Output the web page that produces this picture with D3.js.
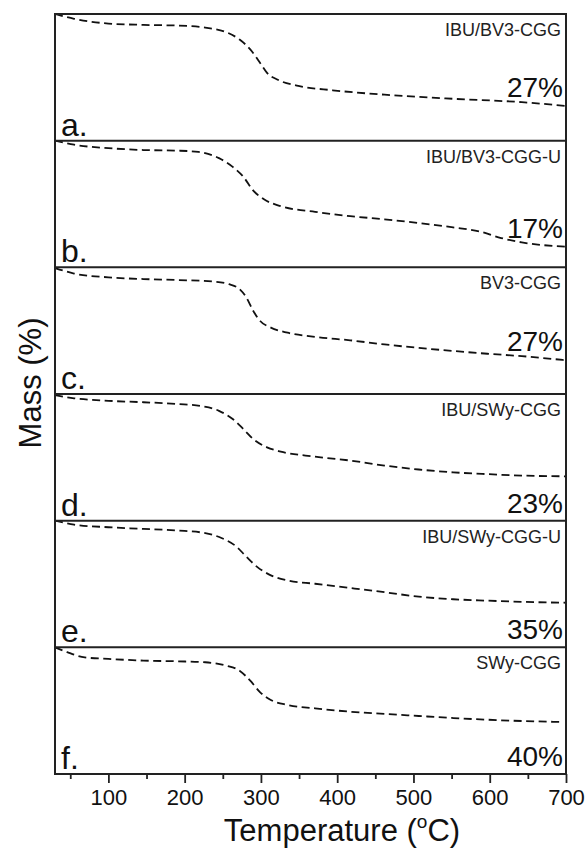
<!DOCTYPE html>
<html>
<head>
<meta charset="utf-8">
<script src="https://cdn.jsdelivr.net/npm/d3@7"></script>
<style>
  html, body { margin: 0; padding: 0; background: #fff; }
  svg { display: block; font-family: "Liberation Sans", Arial, Helvetica, sans-serif; }
</style>
</head>
<body>
<svg id="chart" width="586" height="848"></svg>
<script>
// Thermogravimetric curves, one stacked panel per sample.
const panelLetters = ["a.", "b.", "c.", "d.", "e.", "f."];
const sampleNames = ["IBU/BV3-CGG", "IBU/BV3-CGG-U", "BV3-CGG", "IBU/SWy-CGG", "IBU/SWy-CGG-U", "SWy-CGG"];
const massLoss = [27, 17, 27, 23, 35, 40];            // % lost over the run
const lossLabelSide = ["above", "above", "above", "below", "below", "below"];

// lower end of each panel's mass axis (%), upper end is 100
const massAxisMin = [62.8, 79.7, 63.2, 64.6, 46.0, 32.1];

// temperature (°C) / mass (%) readings per sample
const tempA = [30, 55, 100, 146, 191, 227, 254, 272, 286, 299, 308, 322, 349, 394, 462, 552, 642, 700];
const massA = [100, 98.6, 97.2, 96.8, 96.6, 96.0, 94.7, 92.5, 89.6, 85.6, 82.7, 80.7, 78.9, 77.6, 76.3, 75.1, 74.1, 73.0];

const tempB = [30, 55, 100, 146, 191, 218, 245, 263, 277, 290, 304, 326, 371, 417, 462, 507, 552, 588, 615, 642, 700];
const massB = [100, 99.35, 98.8, 98.5, 98.4, 98.2, 97.2, 95.8, 94.2, 92.0, 90.6, 89.5, 88.6, 87.9, 87.4, 86.8, 86.1, 85.4, 84.4, 83.7, 83.0];

const tempC = [30, 55, 100, 146, 191, 236, 258, 272, 281, 290, 299, 313, 335, 371, 417, 462, 507, 552, 597, 642, 700];
const massC = [99.8, 98.2, 97.1, 96.6, 96.3, 95.9, 95.1, 93.7, 91.2, 87.3, 84.4, 82.5, 81.0, 79.8, 78.8, 77.6, 76.6, 75.7, 74.9, 74.2, 73.0];

const tempD = [30, 55, 100, 146, 191, 222, 245, 263, 277, 290, 308, 326, 371, 417, 462, 507, 552, 597, 642, 700];
const massD = [99.7, 98.8, 98.1, 97.7, 97.2, 96.6, 95.3, 93.0, 90.2, 87.4, 85.1, 83.9, 82.5, 81.4, 80.0, 78.9, 78.1, 77.6, 77.2, 77.0];

const tempE = [30, 55, 100, 146, 191, 227, 249, 268, 281, 295, 313, 335, 371, 417, 462, 507, 552, 597, 642, 700];
const massE = [100, 98.3, 97.2, 96.5, 95.8, 94.7, 92.5, 88.9, 84.6, 80.3, 76.7, 74.5, 73.1, 71.3, 69.5, 67.6, 66.5, 65.9, 65.4, 65.0];

const tempF = [30, 46, 69, 100, 146, 191, 227, 254, 272, 286, 299, 313, 335, 371, 417, 462, 507, 552, 597, 642, 695];
const massF = [100, 97.4, 94.6, 93.8, 92.9, 92.5, 92.0, 90.2, 87.5, 82.1, 75.9, 71.8, 69.1, 67.3, 65.5, 64.3, 63.2, 62.1, 61.2, 60.5, 60.0];

const xTicksMajor = [100, 200, 300, 400, 500, 600, 700];
const xTicksMinor = [50, 150, 250, 350, 450, 550, 650];
const xLabel = "Temperature (";
const yLabel = "Mass (%)";

const temps = [tempA, tempB, tempC, tempD, tempE, tempF];
const masses = [massA, massB, massC, massD, massE, massF];

// ---- layout ----
const plotLeft = 55, plotRight = 566, plotTop = 14, plotBottom = 774;
const nPanels = panelLetters.length;
const panelH = (plotBottom - plotTop) / nPanels;

const svg = d3.select("#chart");

const x = d3.scaleLinear().domain([30, 700]).range([plotLeft, plotRight]);

const line = d3.line().curve(d3.curveMonotoneX);

const panels = svg.append("g").attr("class", "panels");

for (let i = 0; i < nPanels; i++) {
  const y0 = plotTop + i * panelH;
  const y = d3.scaleLinear().domain([massAxisMin[i], 100]).range([y0 + panelH, y0]);
  const g = panels.append("g").attr("class", "panel");

  const pts = temps[i].map((t, k) => [x(t), y(masses[i][k])]);
  g.append("path")
    .attr("d", line(pts))
    .attr("fill", "none")
    .attr("stroke", "#111")
    .attr("stroke-width", 1.8)
    .attr("stroke-dasharray", "8,4.5");

  g.append("text")
    .attr("x", plotLeft + 6)
    .attr("y", y0 + panelH - 5)
    .attr("font-size", 32)
    .attr("fill", "#111")
    .text(panelLetters[i]);

  g.append("text")
    .attr("x", plotRight - 5)
    .attr("y", y0 + 22)
    .attr("text-anchor", "end")
    .attr("font-size", 18)
    .attr("fill", "#222")
    .text(sampleNames[i]);

  const endMass = 100 - massLoss[i];
  const labelY = lossLabelSide[i] === "above" ? y(endMass) - 9 : y0 + panelH - 8;
  g.append("text")
    .attr("x", plotRight - 3)
    .attr("y", labelY)
    .attr("text-anchor", "end")
    .attr("font-size", 28)
    .attr("fill", "#111")
    .text(massLoss[i] + "%");

  if (i > 0) {
    g.append("line")
      .attr("x1", plotLeft).attr("x2", plotRight)
      .attr("y1", y0).attr("y2", y0)
      .attr("stroke", "#222").attr("stroke-width", 2);
  }
}

// outer frame
svg.append("rect")
  .attr("x", plotLeft).attr("y", plotTop)
  .attr("width", plotRight - plotLeft).attr("height", plotBottom - plotTop)
  .attr("fill", "none").attr("stroke", "#222").attr("stroke-width", 2);

// bottom temperature axis
const axisMajor = d3.axisBottom(x).tickValues(xTicksMajor).tickSize(9).tickSizeOuter(0).tickPadding(6);
const gx = svg.append("g").attr("transform", `translate(0,${plotBottom})`).call(axisMajor);
gx.select(".domain").remove();
gx.selectAll(".tick line").attr("stroke", "#222").attr("stroke-width", 1.8);
gx.selectAll(".tick text")
  .attr("font-size", 22)
  .attr("fill", "#111")
  .attr("font-family", "Liberation Sans, Arial, sans-serif");

const axisMinor = d3.axisBottom(x).tickValues(xTicksMinor).tickSize(5).tickSizeOuter(0).tickFormat("");
const gxm = svg.append("g").attr("transform", `translate(0,${plotBottom})`).call(axisMinor);
gxm.select(".domain").remove();
gxm.selectAll(".tick line").attr("stroke", "#222").attr("stroke-width", 1.8);

// axis titles
const xt = svg.append("text")
  .attr("x", 342)
  .attr("y", 841)
  .attr("text-anchor", "middle")
  .attr("font-size", 31)
  .attr("fill", "#111");
xt.append("tspan").text(xLabel);
xt.append("tspan").attr("font-size", 19).attr("dy", -13).text("o");
xt.append("tspan").attr("dy", 13).text("C)");

svg.append("text")
  .attr("transform", "translate(41,383) rotate(-90)")
  .attr("text-anchor", "middle")
  .attr("font-size", 31)
  .attr("fill", "#111")
  .text(yLabel);
</script>
</body>
</html>
